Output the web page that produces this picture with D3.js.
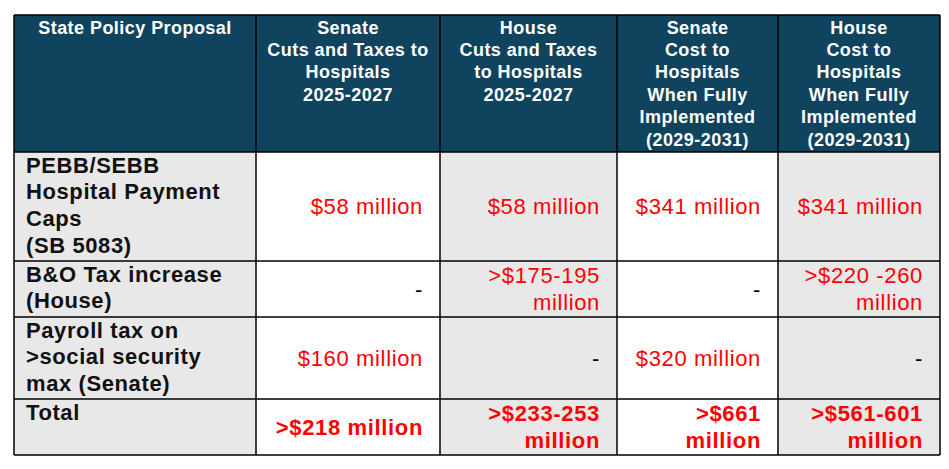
<!DOCTYPE html>
<html><head><meta charset="utf-8">
<script src="https://cdn.jsdelivr.net/npm/d3@7"></script>
<style>html,body{margin:0;padding:0;background:#fff;}</style>
</head><body>
<svg id="chart" width="949" height="469"></svg>
<script>
// ---- data ----
const headers = [
  "State Policy Proposal",
  "Senate\nCuts and Taxes to\nHospitals\n2025-2027",
  "House\nCuts and Taxes\nto Hospitals\n2025-2027",
  "Senate\nCost to\nHospitals\nWhen Fully\nImplemented\n(2029-2031)",
  "House\nCost to\nHospitals\nWhen Fully\nImplemented\n(2029-2031)"
];
const policies = [
  "PEBB/SEBB\nHospital Payment\nCaps\n(SB 5083)",
  "B&O Tax increase\n(House)",
  "Payroll tax on\n>social security\nmax (Senate)",
  "Total"
];
const senateCuts = ["$58 million", "-", "$160 million", ">$218 million"];
const houseCuts = ["$58 million", ">$175-195\nmillion", "-", ">$233-253\nmillion"];
const senateFull = ["$341 million", "-", "$320 million", ">$661\nmillion"];
const houseFull = ["$341 million", ">$220 -260\nmillion", "-", ">$561-601\nmillion"];

// ---- layout ----
const FONT = "'Liberation Sans', Arial, sans-serif";
const colWidths = [242, 184, 177, 161, 162];
const rowHeights = [137, 109, 56, 82, 56];
const x0 = 14, y0 = 15;
const colEdges = [x0, ...d3.cumsum(colWidths).map(v => v + x0)];
const rowEdges = [y0, ...d3.cumsum(rowHeights).map(v => v + y0)];
const xs = d3.scaleOrdinal().domain(d3.range(colWidths.length)).range(colEdges.slice(0, -1));
const ys = d3.scaleOrdinal().domain(d3.range(rowHeights.length)).range(rowEdges.slice(0, -1));

const svg = d3.select("#chart");
const columns = [senateCuts, houseCuts, senateFull, houseFull];

const cells = [];
headers.forEach((h, c) => cells.push({r: 0, c, text: h, kind: "head"}));
policies.forEach((p, i) => {
  cells.push({r: i + 1, c: 0, text: p, kind: "label"});
  columns.forEach((col, j) => cells.push({r: i + 1, c: j + 1, text: col[i], kind: i === 3 ? "total" : "value"}));
});

const headFill = "#10445E";
const g = svg.selectAll("g.cell").data(cells).join("g").attr("class", "cell");
g.append("rect")
  .attr("x", d => xs(d.c)).attr("y", d => ys(d.r))
  .attr("width", d => colWidths[d.c]).attr("height", d => rowHeights[d.r])
  .attr("fill", d => d.kind === "head" ? headFill : (d.c % 2 === 0 ? "#E8E8E8" : "#FFFFFF"));

g.each(function(d) {
  const lines = d.text.split("\n");
  const sel = d3.select(this);
  const x = xs(d.c), y = ys(d.r), w = colWidths[d.c], h = rowHeights[d.r];
  if (d.kind === "head") {
    const t = sel.append("text").attr("text-anchor", "middle").attr("fill", "#fff")
      .attr("font-family", FONT).attr("font-weight", "bold").attr("font-size", 18)
      .attr("letter-spacing", 0.45);
    lines.forEach((l, i) => t.append("tspan").attr("x", x + w / 2).attr("y", y + 18.5 + i * 22.4).text(l));
  } else if (d.kind === "label") {
    const t = sel.append("text").attr("text-anchor", "start").attr("fill", "#111")
      .attr("font-family", FONT).attr("font-weight", "bold").attr("font-size", 22)
      .attr("letter-spacing", 0.6);
    lines.forEach((l, i) => t.append("tspan").attr("x", x + 12).attr("y", y + 20.5 + i * 26.7).text(l));
  } else {
    const isDash = d.text === "-";
    const lh = 27;
    const t = sel.append("text").attr("text-anchor", "end")
      .attr("fill", isDash ? "#000" : "#FF0000")
      .attr("font-family", FONT).attr("font-weight", d.kind === "total" ? "bold" : "normal")
      .attr("font-size", 22).attr("letter-spacing", 0.65);
    const start = y + h / 2 - (lines.length - 1) * lh / 2 + 7.5;
    lines.forEach((l, i) => t.append("tspan").attr("x", x + w - 17).attr("y", start + i * lh).text(l));
  }
});

// grid lines
const lineColor = "#000";
svg.append("g").selectAll("line.v").data(colEdges).join("line")
  .attr("x1", d => d).attr("x2", d => d).attr("y1", y0).attr("y2", rowEdges[rowEdges.length - 1])
  .attr("stroke", lineColor).attr("stroke-width", 1.5);
svg.append("g").selectAll("line.h").data(rowEdges).join("line")
  .attr("x1", x0).attr("x2", colEdges[colEdges.length - 1]).attr("y1", d => d).attr("y2", d => d)
  .attr("stroke", lineColor).attr("stroke-width", 1.5);
</script>
</body></html>
